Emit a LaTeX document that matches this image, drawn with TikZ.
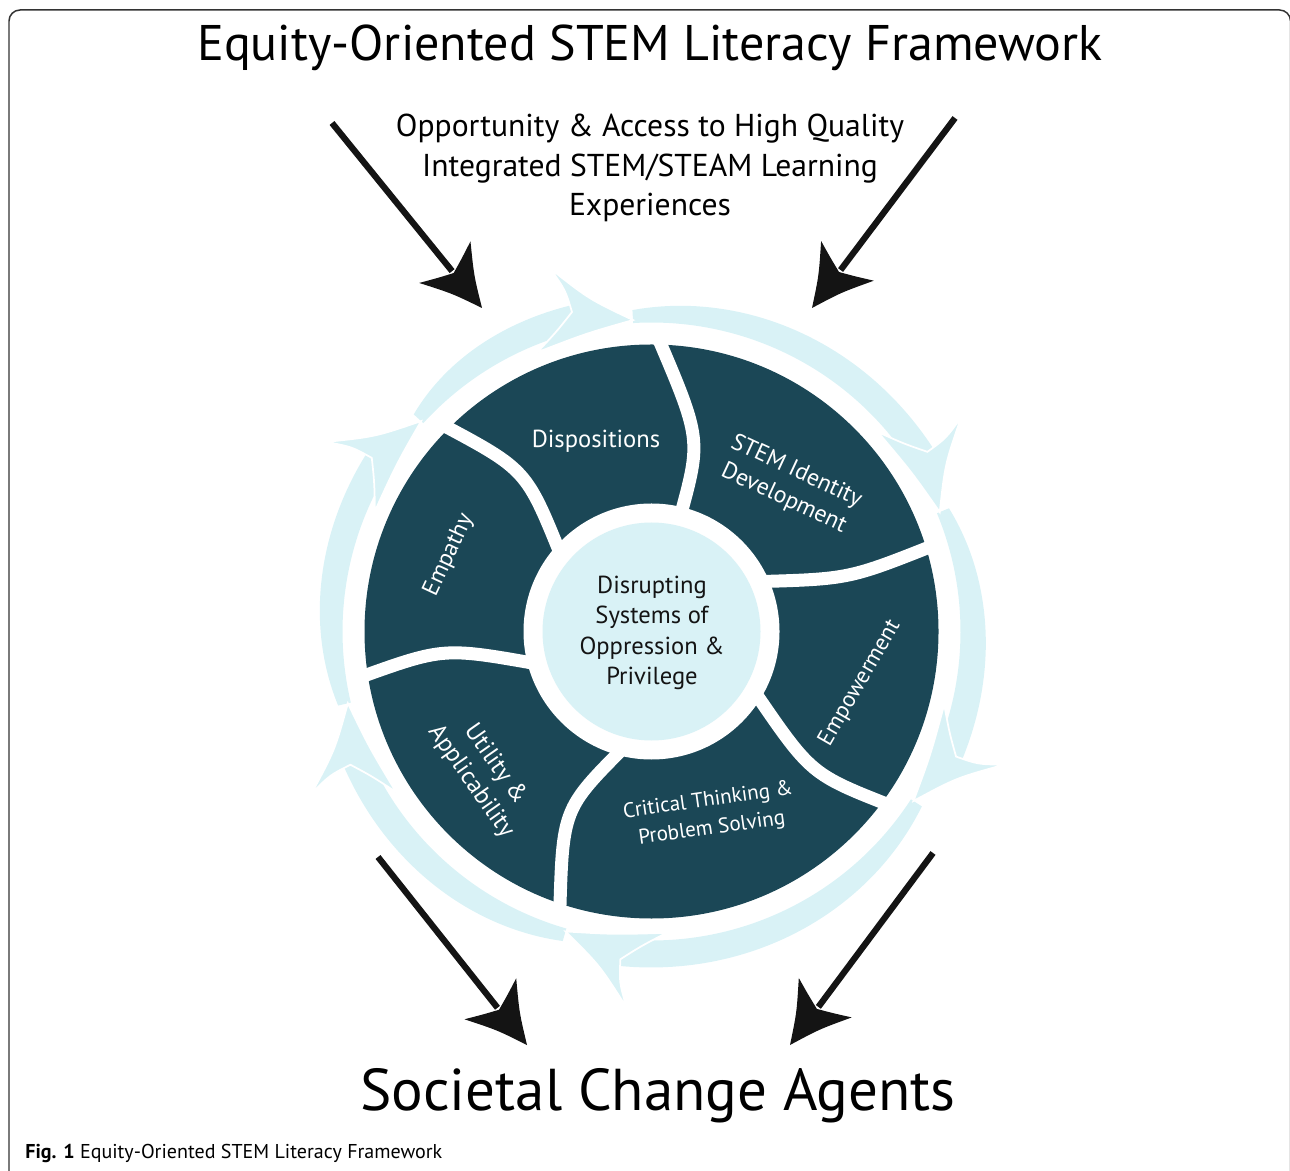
\documentclass[tikz,border=0pt]{standalone}
\usepackage{fontspec}
\setmainfont{PT Sans}
\usetikzlibrary{calc}
\definecolor{darkteal}{HTML}{1B4756}
\definecolor{lightc}{HTML}{D9F2F6}
\definecolor{inkc}{HTML}{141414}
\definecolor{framec}{HTML}{333333}

% ring arrow shaft: #1 tail angle, #2 tip angle
\newcommand{\ringshaft}[2]{%
  \pgfmathsetmacro\hbase{#2+9}%
  \pgfmathsetmacro\spanw{#1-#2-9}%
  \fill[lightc] plot[domain=\hbase:#1, samples=50] (\x:309)
    -- plot[domain=#1:\hbase, samples=50] (\x:{336-14*((\x-\hbase)/\spanw)^3}) -- cycle;
}
% ring arrow head at tip angle #1
\newcommand{\ringhead}[1]{%
  \begin{scope}[shift={(#1:312)}, rotate=#1-90, scale=1.06]
    \filldraw[fill=lightc, draw=white, line width=0.035cm]
      (0,0) .. controls (-40,22) .. (-75,53)
      .. controls (-62,32) .. (-57,11)
      .. controls (-72,-6) .. (-92,-25)
      .. controls (-45,-10) .. cycle;
  \end{scope}}
% black arrow head at coordinate #1, direction #2
\newcommand{\blackhead}[2]{%
  \begin{scope}[shift={(#1)}, rotate=#2]
    \fill[inkc] (0,0) .. controls (-30,14) .. (-59,33)
      .. controls (-51,15) .. (-45,0)
      .. controls (-51,-15) .. (-59,-33)
      .. controls (-30,-14) .. cycle;
  \end{scope}}

\begin{document}
\begin{tikzpicture}[x=0.02cm,y=0.02cm,
  sepline/.style={white, line width=0.26cm},
  blackline/.style={inkc, line width=0.125cm},
  seglabel/.style={white, align=center, font=\fontsize{14}{17}\selectfont},
  frameline/.style={framec, line width=0.03cm}]
\useasboundingbox (0,0) rectangle (1290,1170);

% frame
\draw[frameline] (9,-20) -- (9,1149) arc (180:90:11) -- (1279.5,1160) arc (90:0:11) -- (1290.5,-20);

% title texts
\node (title) at (650,1122) {\fontsize{28.5}{34}\selectfont Equity-Oriented STEM Literacy Framework};
\node[align=center, font=\fontsize{18}{22.5}\selectfont] (sub) at (650,1002) {Opportunity \& Access to High Quality\\
  Integrated STEM/STEAM Learning\\ Experiences};
\node (agents) at (658,74) {\fontsize{33.6}{40}\selectfont Societal Change Agents};
\node[anchor=west, inner sep=0pt] (caption) at (25,17) {\fontsize{11.4}{13}\selectfont\textbf{Fig. 1} Equity-Oriented STEM Literacy Framework};

% circular diagram
\begin{scope}[shift={(651.5,538.5)}]
  \coordinate (ctr) at (0,0);
  % ring arrows
  \ringshaft{137.6}{93.4}
  \ringshaft{93.4}{22.5}
  \ringshaft{22.5}{-32.9}
  \ringshaft{-32.9}{-106}
  \ringshaft{-106}{-166.7}
  \ringshaft{-166.7}{-222.4}
  \ringhead{93.4}
  \ringhead{22.5}
  \ringhead{-32.9}
  \ringhead{-106}
  \ringhead{-166.7}
  \ringhead{-222.4}

  % dark disk
  \fill[darkteal] (ctr) circle (287);
  \fill[white] (ctr) circle (128);

  % separators: outer, mid, inner
  \foreach \ao/\am/\rm/\ai [count=\i] in {89/78/200/76, 17/16/205/25, -36/-40/212/-30, -108/-114/200/-103, 189/186/208/196, 135.5/130/205/140}{
    \coordinate (so\i) at (\ao:297);
    \coordinate (sm\i) at (\am:\rm);
    \coordinate (si\i) at (\ai:118);
    \draw[sepline] (so\i) .. controls ($1.33333*(sm\i)-0.166667*(so\i)-0.166667*(si\i)$) .. (si\i);
  }

  % centre disk
  \fill[lightc] (ctr) circle (109);
  \node[align=center, text=inkc, font=\fontsize{14}{17.2}\selectfont] (core) at (0.5,-1.5)
    {Disrupting\\ Systems of\\ Oppression \&\\ Privilege};

  % segment labels
  \node[seglabel] (disp) at (-55.5,190.5) {Dispositions};
  \node[seglabel, rotate=-25, font=\fontsize{13.5}{17}\selectfont] (stem) at (138.5,146.5) {STEM Identity\\ Development};
  \node[seglabel, rotate=60, font=\fontsize{13}{16}\selectfont] (empow) at (208.5,-51.5) {Empowerment};
  \node[seglabel, rotate=8, font=\fontsize{12}{16}\selectfont] (crit) at (58.5,-183.5) {Critical Thinking \&\\ Problem Solving};
  \node[seglabel, rotate=-55] (util) at (-168.5,-141.5) {Utility \&\\ Applicability};
  \node[seglabel, rotate=65, font=\fontsize{13.4}{16}\selectfont] (emp) at (-202.5,76.5) {Empathy};
\end{scope}

% black arrows
\coordinate (a1s) at (332,1047); \coordinate (a1t) at (482,862);
\coordinate (a2s) at (955,1052); \coordinate (a2t) at (812,862);
\coordinate (a3s) at (378,313);  \coordinate (a3t) at (527,125);
\coordinate (a4s) at (933,317);  \coordinate (a4t) at (790,125);
\draw[blackline] (a1s) -- ($(a1t)!0.95cm!(a1s)$);
\draw[blackline] (a2s) -- ($(a2t)!0.95cm!(a2s)$);
\draw[blackline] (a3s) -- ($(a3t)!0.95cm!(a3s)$);
\draw[blackline] (a4s) -- ($(a4t)!0.95cm!(a4s)$);
\blackhead{a1t}{-50.96}
\blackhead{a2t}{-126.97}
\blackhead{a3t}{-51.6}
\blackhead{a4t}{-126.7}
\end{tikzpicture}
\end{document}
